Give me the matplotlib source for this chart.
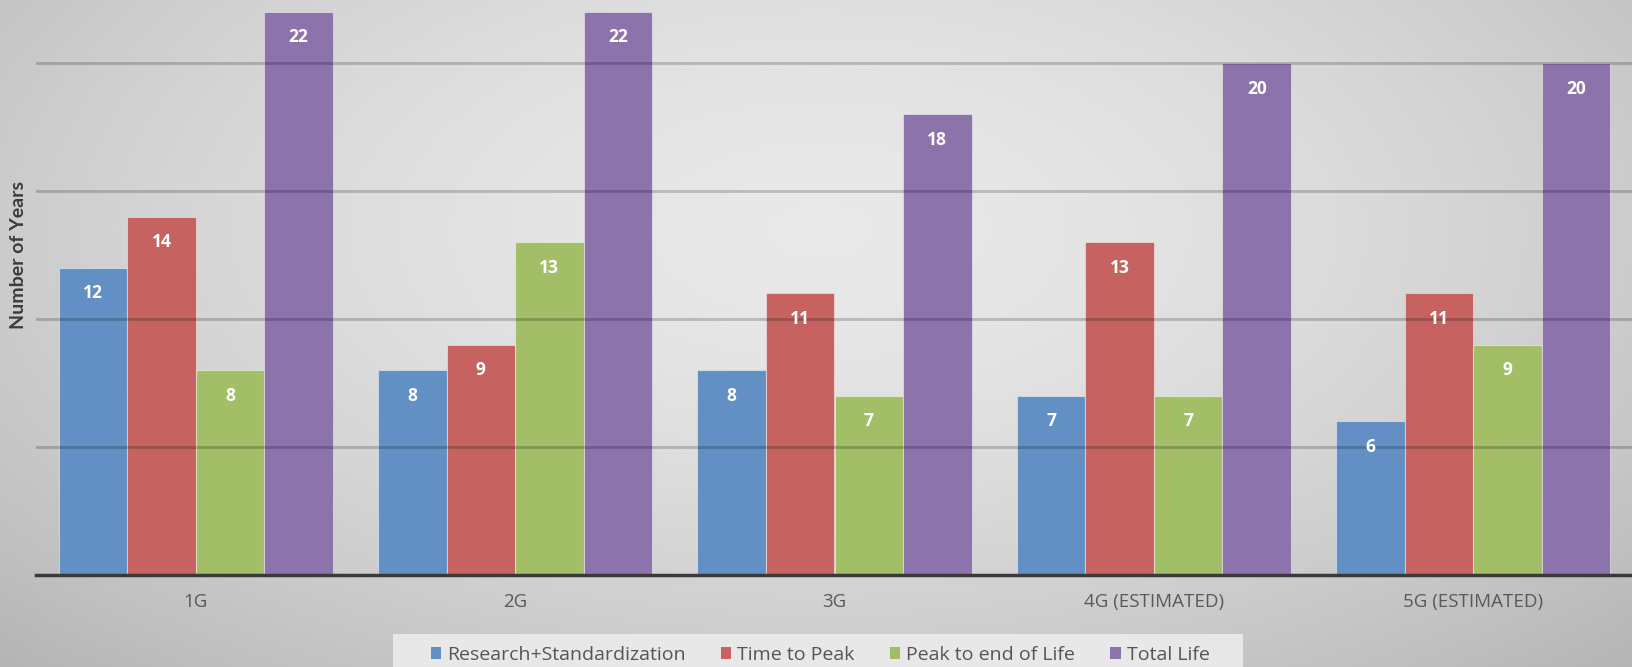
import numpy as np
import matplotlib
matplotlib.use("Agg")
import matplotlib.pyplot as plt
from matplotlib.patches import Patch, Rectangle

plt.rcParams['font.family'] = ['Open Sans', 'DejaVu Sans']

generations = ["1G", "2G", "3G", "4G (ESTIMATED)", "5G (ESTIMATED)"]
research = [12, 8, 8, 7, 6]
time_to_peak = [14, 9, 11, 13, 11]
peak_to_end = [8, 13, 7, 7, 9]
total_life = [22, 22, 18, 20, 20]

series_names = ["Research+Standardization", "Time to Peak", "Peak to end of Life", "Total Life"]
series_colors = ["#6290c4", "#c66260", "#a2bf68", "#8c73ab"]

W, H = 1633, 667
fig = plt.figure(figsize=(W / 100, H / 100), dpi=100)

# soft radial grey backdrop
bg = fig.add_axes([0, 0, 1, 1], zorder=-10)
yy, xx = np.mgrid[0:H, 0:W]
r = np.sqrt(((xx - 820) / 1000.0) ** 2 + ((yy - 230) / 520.0) ** 2)
shade = 0.915 - 0.16 * np.clip(r, 0, 1.4) ** 1.6
bg.imshow(np.dstack([shade] * 3), extent=[0, W, H, 0], aspect='auto')
bg.axis('off')

ax = fig.add_axes([36 / W, 92 / H, 1 - 36 / W, 575 / H])
ax.set_facecolor('none')

x = np.arange(len(generations))
width = 0.2145
data = [research, time_to_peak, peak_to_end, total_life]
for i, (vals, col) in enumerate(zip(data, series_colors)):
    pos = x + (i - 1.5) * width
    ax.bar(pos, vals, width, color=col, edgecolor=(1, 1, 1, 0.45), linewidth=0.8, zorder=2)
    for xp, v in zip(pos, vals):
        ax.annotate(str(v), (xp, v), xytext=(0, -18.5), textcoords='offset points',
                    ha='center', va='center', color='white', fontweight='bold',
                    fontsize=12.5, zorder=4)

# gridlines over the bars, slightly see-through
for gy in [5, 10, 15, 20]:
    ax.axhline(gy, color=(0, 0, 0, 0.2), linewidth=2, zorder=3)

ax.set_xlim(-0.5, 4.5)
ax.set_ylim(0, 22.46)
ax.set_yticks([])
ax.set_xticks(x)
ax.set_xticklabels(generations, fontsize=13.5, color='#595959')
ax.tick_params(axis='x', length=0, pad=13)
for s in ['top', 'right', 'left']:
    ax.spines[s].set_visible(False)
ax.spines['bottom'].set_color('#3a3a3a')
ax.spines['bottom'].set_linewidth(2.5)
ax.spines['bottom'].set_zorder(5)

fig.text(19 / W, 1 - 255 / H, "Number of Years", rotation=90, ha='center', va='center',
         fontsize=14, color='#3c3c3c', fontweight='bold', family=['Lato', 'DejaVu Sans'])

# legend panel at the bottom
fig.patches.append(Rectangle((393 / W, 0), (1243 - 393) / W, 1 - 634 / H,
                             transform=fig.transFigure, facecolor='#e8e8e8',
                             edgecolor='none', zorder=-5))
handles = [Patch(facecolor=c, edgecolor='none') for c in series_colors]
leg = fig.legend(handles, series_names, loc='center', bbox_to_anchor=(820 / W, 1 - 655 / H),
                 ncol=4, fontsize=14, frameon=False, handlelength=0.55, handleheight=0.55,
                 handletextpad=0.3, columnspacing=1.8, labelcolor='#555555',
                 borderpad=0, borderaxespad=0)

fig.savefig("out.png", dpi=100)
